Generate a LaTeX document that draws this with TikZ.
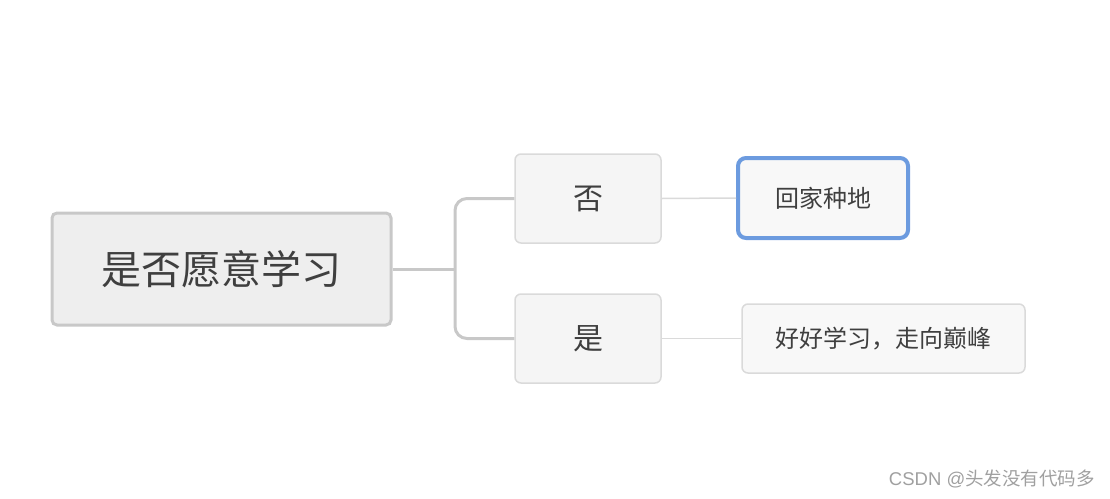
\documentclass[tikz,border=0pt]{standalone}
\usepackage{fontspec}
\setmainfont{Noto Sans CJK SC}
\newfontfamily\cjk{Noto Sans CJK SC}
\newfontfamily\wmfont{Liberation Sans}
\definecolor{rootfill}{HTML}{EEEEEE}
\definecolor{rootdraw}{HTML}{C8C8C8}
\definecolor{subfill}{HTML}{F5F5F5}
\definecolor{subdraw}{HTML}{DADADA}
\definecolor{leaffill}{HTML}{F8F8F8}
\definecolor{seldraw}{HTML}{6C9BDF}
\definecolor{txt}{HTML}{3F3F3F}
\definecolor{wm}{HTML}{A0A0A0}
\tikzset{
  rootbox/.style={draw=rootdraw, line width=3pt, fill=rootfill, rounded corners=5pt, inner sep=0pt, text=txt, font=\cjk\fontsize{40}{44}\selectfont},
  subbox/.style={draw=subdraw, line width=1.5pt, fill=subfill, rounded corners=6pt, inner sep=0pt, text=txt, font=\cjk\fontsize{30}{34}\selectfont},
  leafbox/.style={draw=subdraw, line width=1.5pt, fill=leaffill, rounded corners=6pt, inner sep=0pt, text=txt, font=\cjk\fontsize{24}{28}\selectfont},
  selbox/.style={leafbox, draw=seldraw, line width=4pt, rounded corners=8pt},
  mainlink/.style={draw=rootdraw, line width=3pt, rounded corners=12pt},
  leaflink/.style={draw=subdraw, line width=1.5pt},
}
\begin{document}
\begin{tikzpicture}[x=1pt,y=-1pt]
\useasboundingbox (0,0) rectangle (1110,498);
\node[rootbox, minimum width=339pt, minimum height=112pt] (root) at (221.5,269) {是否愿意学习};
\node[subbox, minimum width=146pt, minimum height=89pt] (no) at (588,198.5) {否};
\node[subbox, minimum width=146pt, minimum height=89pt] (yes) at (588,338.5) {是};
\node[selbox, minimum width=170pt, minimum height=80pt] (home) at (823,198) {回家种地};
\node[leafbox, minimum width=283pt, minimum height=69pt] (study) at (883.5,338.5) {好好学习，走向巅峰};
\coordinate (fork) at (455,269);
\draw[mainlink] (root.east) -- (fork);
\draw[mainlink] (no.west) -| (fork) |- (yes.west);
\draw[leaflink] (no.east) -- (home.west);
\draw[leaflink] (yes.east) -- (study.west);
\node[anchor=east, text=wm, inner sep=0pt] (wmk) at (1095,479) {{\wmfont\fontsize{18.5}{20}\selectfont CSDN @}{\cjk\fontsize{18.5}{20}\selectfont 头发没有代码多}};
\end{tikzpicture}
\end{document}
